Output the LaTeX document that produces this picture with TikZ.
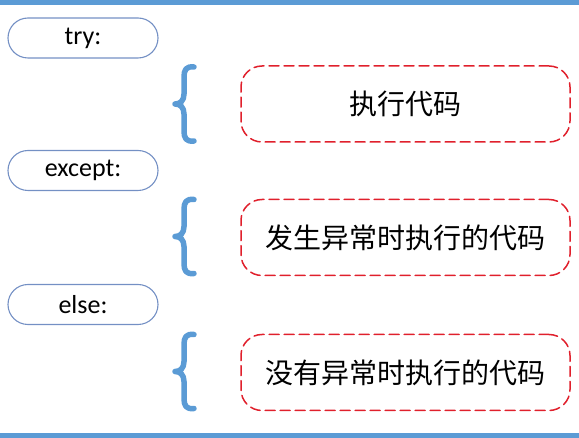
\documentclass[tikz,border=0pt]{standalone}
\usepackage{fontspec}
\setmainfont{Carlito}
\newfontfamily\cjk{Noto Sans CJK SC}
\usepackage{tikz}
\definecolor{barblue}{HTML}{5B9BD5}
\definecolor{boxline}{HTML}{7490C4}
\definecolor{dashred}{HTML}{E0202C}

\begin{document}
\begin{tikzpicture}[x=1pt, y=-1pt, every path/.style={line cap=round}]

        \tikzset{keyword/.style = {shape=rectangle, draw=boxline, line width=1.1pt, rounded corners=20pt,
                minimum width=150pt, minimum height=40pt, inner sep=0pt,
                font=\fontsize{26}{30}\selectfont}}
        \tikzset{codebox/.style = {shape=rectangle, draw=dashred, line width=1.5pt, rounded corners=21pt,
                dash pattern=on 10pt off 5pt, minimum width=329pt, minimum height=76pt, inner sep=0pt,
                font=\cjk\fontsize{28}{32}\selectfont}}
        \tikzset{codebrace/.style = {draw=barblue, line width=5.5pt, line cap=round, line join=round}}

        \useasboundingbox (0,0) rectangle (579,438);
        \fill[barblue] (0,0) rectangle (579,5);
        \fill[barblue] (0,433) rectangle (579,438);

        \node[keyword] (try) at (83,38) {try:};
        \node[keyword] (except) at (83,170.5) {except:};
        \node[keyword] (else) at (83,304.5) {else:};

        \node[codebox] (run) at (405.5,104) {执行代码};
        \node[codebox] (onerr) at (405.5,237.5) {发生异常时执行的代码};
        \node[codebox] (noerr) at (405.5,372.5) {没有异常时执行的代码};

        \foreach \y in {104,236.5,371.5}
            \draw[codebrace] (194,\y-37) .. controls (186,\y-38) and (184,\y-34) .. (184,\y-27)
                -- (184,\y-10) .. controls (184,\y-3) and (180,\y) .. (175,\y)
                .. controls (180,\y) and (184,\y+3) .. (184,\y+10)
                -- (184,\y+27) .. controls (184,\y+34) and (186,\y+38) .. (194,\y+37);
\end{tikzpicture}
\end{document}
